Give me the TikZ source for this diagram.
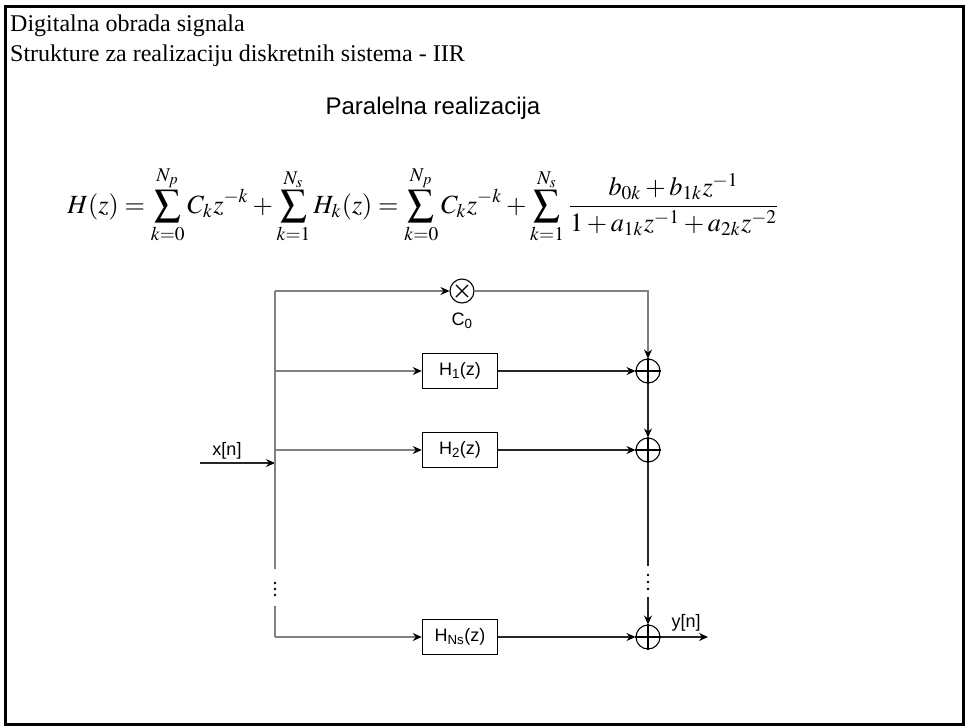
\documentclass[tikz,border=0pt]{standalone}
\usepackage{mathptmx}
\usepackage{fontspec}
\setmainfont{Liberation Serif}
\newfontfamily\arial{Liberation Sans}
\usetikzlibrary{arrows.meta}
\begin{document}
\begin{tikzpicture}[x=1pt,y=-1pt,
  line/.style={line width=1.1pt, black!85},
  gline/.style={line width=1.1pt, black!50},
  arr/.style={-{Stealth[length=9pt,width=8pt,inset=3pt,color=black]}},
  blk/.style={draw, line width=1.5pt, minimum width=75pt, minimum height=35pt, inner sep=0pt, font=\arial\fontsize{18}{20}\selectfont},
  sumc/.style={draw, circle, line width=1.1pt, minimum size=24pt, inner sep=0pt},
  lbl/.style={font=\arial\fontsize{18}{20}\selectfont, inner sep=0pt},
  dotc/.style={fill=black, circle, inner sep=0pt, minimum size=2.8pt}
]
\useasboundingbox (0,0) rectangle (967,726);
\draw[line width=3pt] (5.5,6.5) rectangle (963.5,724);

\node[anchor=base west, inner sep=0pt, font=\fontsize{24}{28}\selectfont] (t1) at (10,31) {Digitalna obrada signala};
\node[anchor=base west, inner sep=0pt, font=\fontsize{24}{28}\selectfont] (t2) at (10,61) {Strukture za realizaciju diskretnih sistema - IIR};
\node[lbl, font=\arial\fontsize{24}{28}\selectfont] (pr) at (433,108) {Paralelna realizacija};

\node[inner sep=0pt] (eq) at (424,205) {\resizebox{713pt}{!}{$\displaystyle H(z)=\sum_{k=0}^{N_p}C_k z^{-k}+\sum_{k=1}^{N_s}H_k(z)=\sum_{k=0}^{N_p}C_k z^{-k}+\sum_{k=1}^{N_s}\frac{b_{0k}+b_{1k}z^{-1}}{1+a_{1k}z^{-1}+a_{2k}z^{-2}}$}};

% bus
\coordinate (xin) at (200,463);
\coordinate (bj) at (275,463);
\coordinate (btop) at (275,291);
\coordinate (b1) at (275,371);
\coordinate (b2) at (275,450);
\coordinate (bg1) at (275,569);
\coordinate (bg2) at (275,606);
\coordinate (bbot) at (275,637);

\node[sumc] (m) at (462,291) {};
\draw[line width=1.1pt] ([shift={(-6,-6)}]m.center) -- ([shift={(6,6)}]m.center);
\draw[line width=1.1pt] ([shift={(-6,6)}]m.center) -- ([shift={(6,-6)}]m.center);

\node[blk] (h1) at (460,371) {H\textsubscript{1}(z)};
\node[blk] (h2) at (460,450) {H\textsubscript{2}(z)};
\node[blk] (hn) at (460,637) {H\textsubscript{Ns}(z)};

\foreach \n/\yy in {a1/371,a2/450,a3/637}{
  \node[sumc] (\n) at (648,\yy) {};
  \draw[line width=1.1pt] (\n.north) -- (\n.south);
  \draw[line width=1.1pt] (\n.west) -- (\n.east);
}

\coordinate (r1) at (648,566);
\coordinate (r2) at (648,597);
\coordinate (yout) at (708,637);

\draw[line,arr] (xin) -- (bj);
\draw[gline] (btop) -- (bg1);
\draw[gline] (bg2) -- (bbot);
\draw[gline,arr] (btop) -- (m);
\draw[gline,arr] (m) -| (a1);
\draw[gline,arr] (b1) -- (h1);
\draw[gline,arr] (b2) -- (h2);
\draw[gline,arr] (bbot) -- (hn);
\draw[line,arr] (h1) -- (a1);
\draw[line,arr] (h2) -- (a2);
\draw[line,arr] (hn) -- (a3);
\draw[line,arr] (a1) -- (a2);
\draw[line] (a2) -- (r1);
\draw[line,arr] (r2) -- (a3);
\draw[line,arr] (a3) -- (yout);

\node[dotc] (ld1) at (275,583) {};
\node[dotc] (ld2) at (275,589) {};
\node[dotc] (ld3) at (275,595) {};
\node[dotc] (rd1) at (648,575) {};
\node[dotc] (rd2) at (648,582) {};
\node[dotc] (rd3) at (648,589) {};

\node[lbl] (xl) at (227,451) {x[n]};
\node[lbl] (cl) at (462,321) {C\textsubscript{0}};
\node[lbl] (yl) at (686,623) {y[n]};
\end{tikzpicture}
\end{document}
